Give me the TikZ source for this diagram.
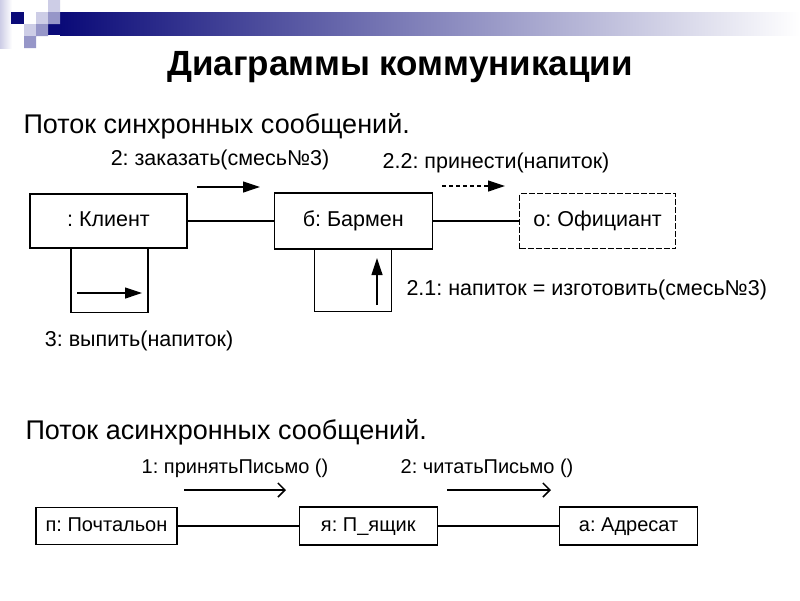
\documentclass[tikz,border=0pt]{standalone}
\usepackage{fontspec}
\setmainfont{Liberation Sans}
\frenchspacing
\usetikzlibrary{arrows,arrows.meta,positioning,calc}

\definecolor{navybar}{RGB}{10,10,120}
\definecolor{lilac1}{RGB}{205,205,230}
\definecolor{lilac2}{RGB}{150,150,200}

\begin{document}
\begin{tikzpicture}[x=1pt, y=-1pt,
    obj/.style={draw, line width=1.3pt, inner sep=0pt, text height=15pt, text depth=4pt,
                font=\fontsize{21.5}{24}\selectfont},
    aobj/.style={obj, font=\fontsize{20}{24}\selectfont, text height=14pt},
    msg/.style={font=\fontsize{21.5}{24}\selectfont, text height=15pt, text depth=5pt},
    amsg/.style={msg, font=\fontsize{20}{24}\selectfont},
    head/.style={font=\fontsize{27}{32}\selectfont, anchor=west},
    link/.style={line width=1.3pt},
    sync/.style={line width=1.2pt, -{Triangle[length=17pt,width=11pt]}},
    async/.style={line width=1.5pt, -{Straight Barb[length=7pt,width=14pt]}}]
    \useasboundingbox (0,0) rectangle (800,600);
    \fill[white] (0,0) rectangle (800,600);
    % decoration of the slide
    \shade[left color=lilac1, right color=white] (0,0) rectangle (12,48);
    \shade[left color=navybar, right color=white] (60,12) rectangle (800,35);
    \fill[navybar] (48,24) rectangle (60,35);
    \fill[navybar] (11,12) rectangle (24,24);
    \fill[lilac1] (48,0) rectangle (60,12) (36,12) rectangle (48,24) (24,24) rectangle (36,36);
    \fill[lilac2] (48,12) rectangle (60,24) (36,24) rectangle (48,36) (24,36) rectangle (36,48);
    \node[font=\bfseries\fontsize{35}{40}\selectfont] (title) at (400,67) {Диаграммы коммуникации};

    % synchronous flow
    \node[head] (synchead) at (20,126) {Поток синхронных сообщений.};
    \node[obj, minimum width=157pt, minimum height=54pt] (klient) at (108.5,221) {: Клиент};
    \node[obj, minimum width=158pt, minimum height=56pt, right=86pt of klient] (barmen) {б: Бармен};
    \node[obj, dashed, dash pattern=on 6pt off 2pt, minimum width=156pt, minimum height=55pt,
          right=86pt of barmen] (oficiant) {о: Официант};
    \draw[link] (klient) -- (barmen);
    \draw[link] (barmen) -- (oficiant);
    \draw[link] ($(klient.south)+(-37.5,0)$) |- ($(klient.south)+(39.5,64)$) -- ($(klient.south)+(39.5,0)$);
    \draw[link] ($(barmen.south)+(-39,0)$) |- ($(barmen.south)+(38,62)$) -- ($(barmen.south)+(38,0)$);
    \draw[sync] (197,187) -- (260,187);
    \draw[sync, dash pattern=on 4pt off 3pt] (442,186) -- (505,186);
    \draw[sync] (77,293) -- (142,293);
    \draw[sync] (377,305) -- (377,258);
    \node[msg] (zakazat) at (220,160) {2: заказать(смесь№3)};
    \node[msg] (prinesti) at (496,163) {2.2: принести(напиток)};
    \node[msg] (vypit) at (139,341) {3: выпить(напиток)};
    \node[msg, anchor=west] (izgotovit) at (403,290) {2.1: напиток = изготовить(смесь№3)};

    % asynchronous flow
    \node[head] (asynchead) at (22,432) {Поток асинхронных сообщений.};
    \node[aobj, minimum width=141pt, minimum height=37pt] (pochtalon) at (106.5,526) {п: Почтальон};
    \node[aobj, minimum width=138pt, minimum height=38pt, right=121pt of pochtalon] (yashchik) {я: П\_ящик};
    \node[aobj, minimum width=138pt, minimum height=38pt, right=121pt of yashchik] (adresat) {а: Адресат};
    \draw[link] (pochtalon) -- (yashchik);
    \draw[link] (yashchik) -- (adresat);
    \draw[async] (184,490) -- (286,490);
    \draw[async] (447,490) -- (551,490);
    \node[amsg] (prinyat) at (235,468) {1: принятьПисьмо ()};
    \node[amsg] (chitat) at (487,468) {2: читатьПисьмо ()};
\end{tikzpicture}
\end{document}
